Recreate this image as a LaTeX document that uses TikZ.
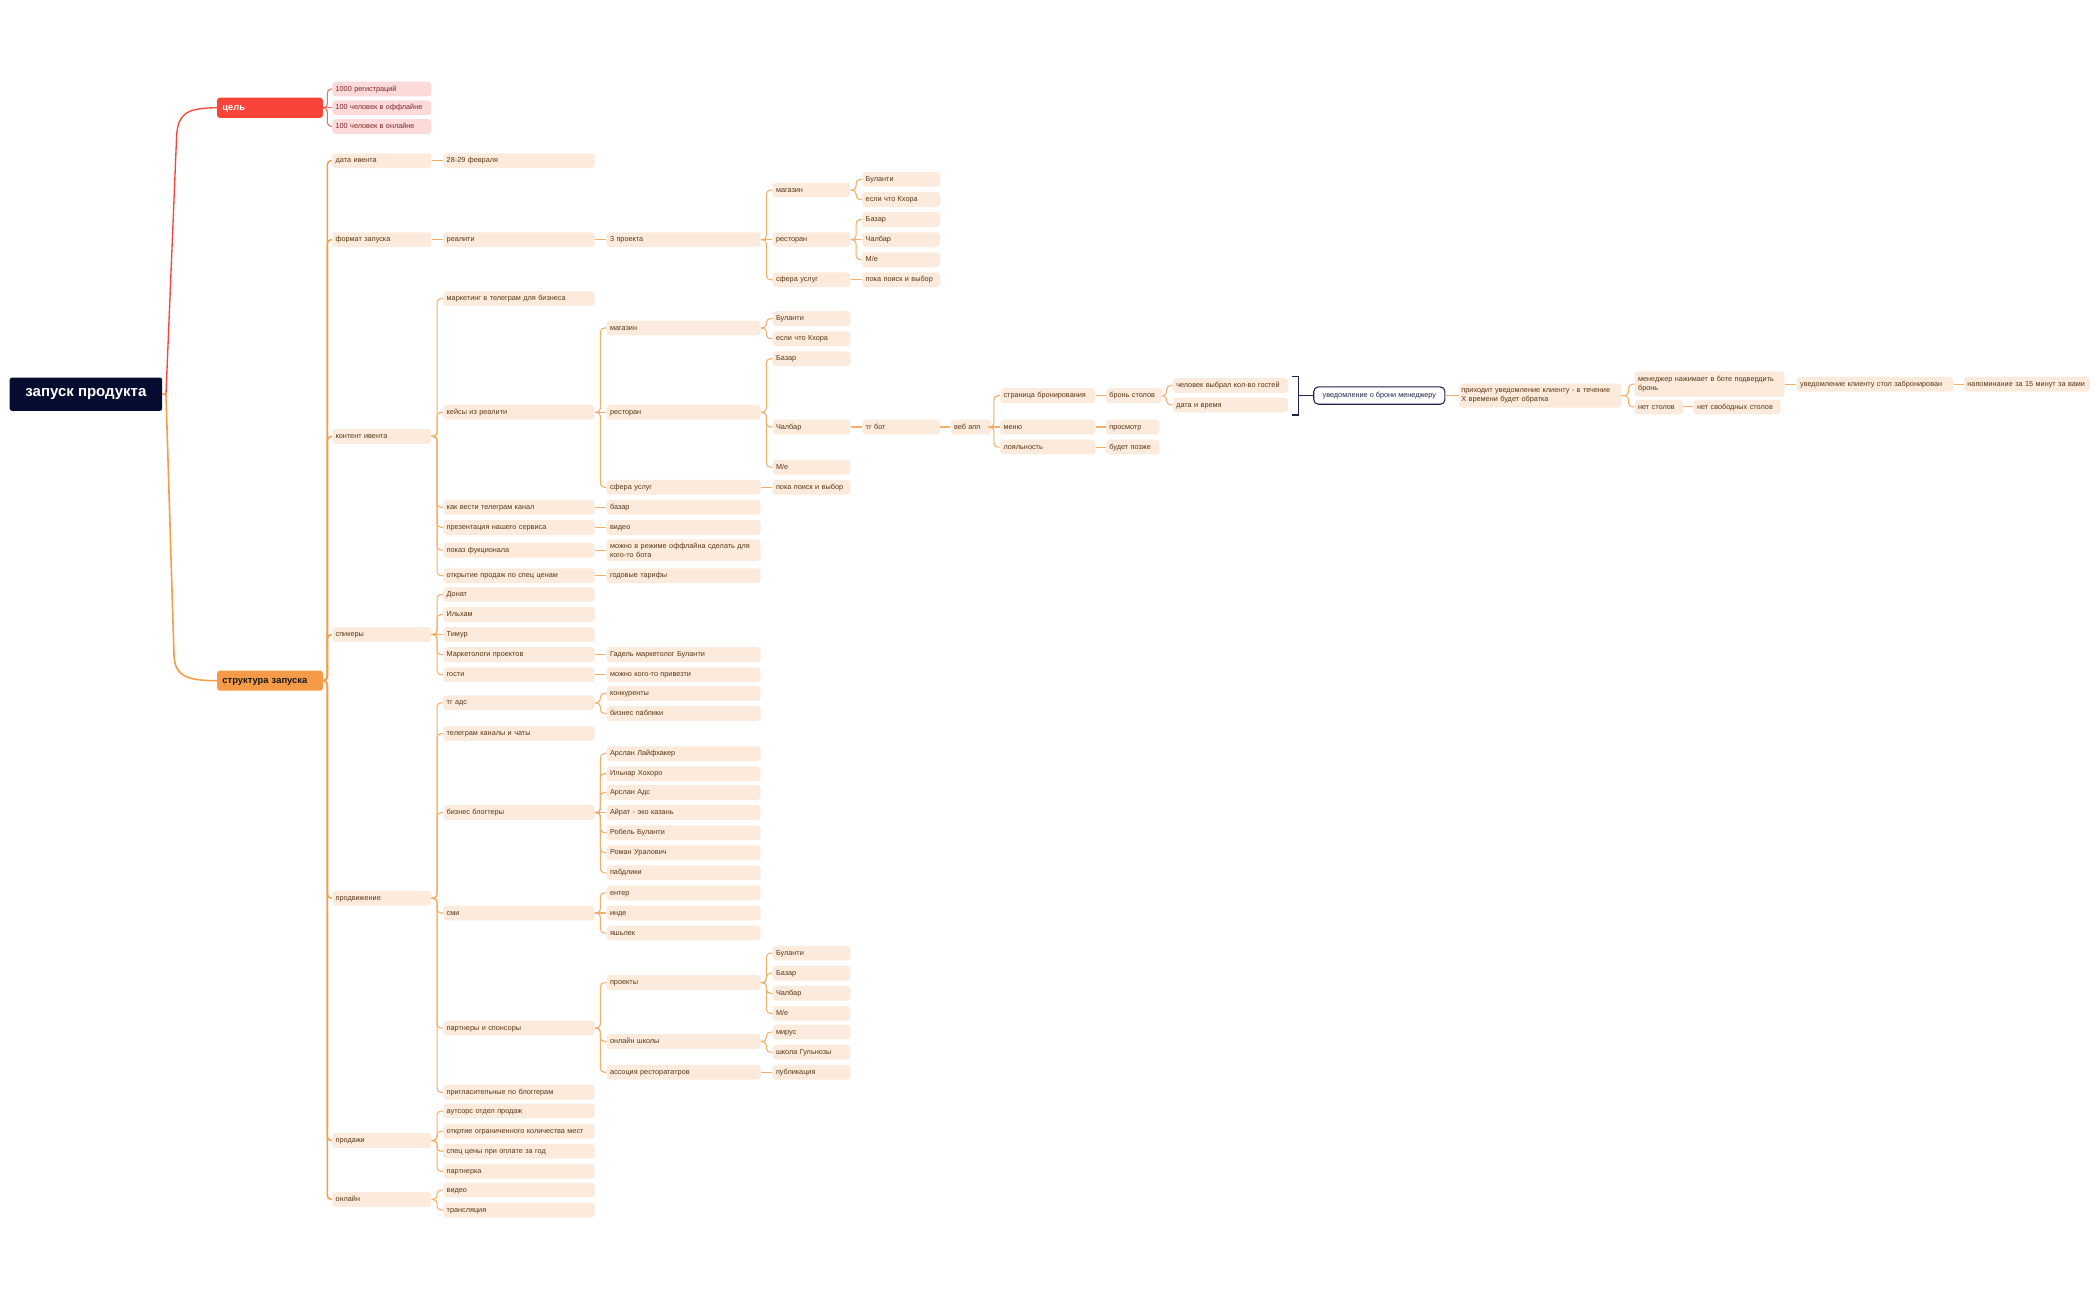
\documentclass[tikz,border=0pt]{standalone}
\usepackage{fontspec}
\setmainfont{Liberation Sans}
\definecolor{boxO}{HTML}{FCEBDC}
\definecolor{txtO}{HTML}{5A3618}
\definecolor{lnO}{HTML}{F7AE68}
\definecolor{lnOd}{HTML}{F59E4A}
\definecolor{boxP}{HTML}{FDDADA}
\definecolor{txtP}{HTML}{7A2626}
\definecolor{redM}{HTML}{FA443A}
\definecolor{orM}{HTML}{F59B47}
\definecolor{navy}{HTML}{060B30}
\definecolor{navyl}{HTML}{1E2448}
\tikzset{
  lvb/.style={anchor=west, fill=boxO, rounded corners=2.5pt, minimum height=11pt,
    inner xsep=2.5pt, inner ysep=1.2pt, align=left,
    font=\fontsize{5.45}{6.5}\selectfont, text=txtO},
  lv/.style={lvb, text height=4.3pt, text depth=1.1pt},
  lvP/.style={lv, fill=boxP, text=txtP, text width=69pt},
  k2/.style={lv, text width=69pt},
  k3/.style={lv, text width=108pt},
  k4/.style={lv, text width=110pt},
  k5/.style={lv, text width=53pt},
  k6/.style={lv, text width=53pt},
  ln/.style={draw=lnO, line width=0.8pt, rounded corners=3pt},
  ln1/.style={draw=lnOd, line width=1.1pt, rounded corners=3pt},
  lnP/.style={draw=redM!80, line width=0.8pt, rounded corners=3pt},
  main/.style={anchor=west, rounded corners=2pt, text width=71pt, inner xsep=4pt,
    minimum height=15pt, text height=5.3pt, text depth=1.3pt,
    font=\fontsize{7}{8}\selectfont\bfseries},
}
\newcommand\mlink[3][ln]{\draw[#1] (#2.east) -| ([xshift=-4.5pt]#3.west) -- (#3.west);}
\newcommand\mlinkT[3][ln1]{\draw[#1] (#2.east) -| ([xshift=-3.5pt]#3.west) -- (#3.west);}
\newcommand\mstr[3][ln]{\draw[#1] (#2.east) -- (#3.west);}
\begin{document}
\begin{tikzpicture}[x=1pt,y=-1pt]
\fill[white] (0,0) rectangle (1568,971);
\useasboundingbox (0,0) rectangle (1568,971);

% root and level 1
\node[anchor=west, fill=navy, text=white, font=\fontsize{11.2}{13}\selectfont\bfseries,
  rounded corners=2pt, minimum width=114pt, minimum height=25pt, inner sep=0pt]
  (root) at (7,294.5) {запуск продукта};
\node[main, fill=redM, text=white] (goal) at (162,80.5) {цель};
\node[main, fill=orM, text=black!90] (struct) at (162,508.5) {структура запуска};

\draw[draw=redM, line width=1pt] (root.east) -- (124,294.5) -- (132,100) .. controls (133.5,86) and (138,80.5) .. (goal.west);
\draw[draw=lnOd, line width=1.2pt] (root.east) -- (124,294.5) -- (130,490) .. controls (131,503) and (136,508.5) .. (struct.west);

% goal children
\node[lvP] (g1) at (248,66.5) {1000 регистраций};
\node[lvP] (g2) at (248,80.5) {100 человек в оффлайне};
\node[lvP] (g3) at (248,94.5) {100 человек в онлайне};
\mlinkT[lnP]{goal}{g1}
\mstr[lnP]{goal}{g2}
\mlinkT[lnP]{goal}{g3}

% level 2
\node[k2] (data) at (248,120) {дата ивента};
\node[k2] (fmt) at (248,179) {формат запуска};
\node[k2] (cont) at (248,326) {контент ивента};
\node[k2] (spk) at (248,474) {спикеры};
\node[k2] (prom) at (248,671) {продвижение};
\node[k2] (sales) at (248,852) {продажи};
\node[k2] (onl) at (248,896) {онлайн};
\foreach \n in {data,fmt,cont,spk,prom,sales,onl}{\mlinkT{struct}{\n}}

% дата
\node[k3] (d1) at (331,120) {28-29 февраля};
\mstr{data}{d1}

% формат
\node[k3] (f1) at (331,179) {реалити};
\node[k4] (f2) at (453,179) {3 проекта};
\node[k5] (f3a) at (577,142) {магазин};
\node[k5] (f3b) at (577,179) {ресторан};
\node[k5] (f3c) at (577,209) {сфера услуг};
\node[k6] (fa1) at (644,134) {Буланти};
\node[k6] (fa2) at (644,149) {если что Кхора};
\node[k6] (fb1) at (644,164) {Базар};
\node[k6] (fb2) at (644,179) {Чалбар};
\node[k6] (fb3) at (644,194) {М/е};
\node[k6] (fc1) at (644,209) {пока поиск и выбор};
\mstr{fmt}{f1}
\mstr{f1}{f2}
\mlink{f2}{f3a}\mstr{f2}{f3b}\mlink{f2}{f3c}
\mlink{f3a}{fa1}\mlink{f3a}{fa2}
\mlink{f3b}{fb1}\mstr{f3b}{fb2}\mlink{f3b}{fb3}
\mstr{f3c}{fc1}

% контент
\node[k3] (c1) at (331,223) {маркетинг в телеграм для бизнеса};
\node[k3] (c2) at (331,308) {кейсы из реалити};
\node[k3] (c3) at (331,379) {как вести телеграм канал};
\node[k3] (c4) at (331,394) {презентация нашего сервиса};
\node[k3] (c5) at (331,411) {показ фукционала};
\node[k3] (c6) at (331,430) {открытие продаж по спец ценам};
\foreach \n in {c1,c2,c3,c4,c5,c6}{\mlink{cont}{\n}}

\node[k4] (c2a) at (453,245) {магазин};
\node[k4] (c2b) at (453,308) {ресторан};
\node[k4] (c2c) at (453,364) {сфера услуг};
\mlink{c2}{c2a}\mstr{c2}{c2b}\mlink{c2}{c2c}
\node[k5] (c2a1) at (577,238) {Буланти};
\node[k5] (c2a2) at (577,253) {если что Кхора};
\node[k5] (c2b1) at (577,268) {Базар};
\node[k5] (c2b2) at (577,319) {Чалбар};
\node[k5] (c2b3) at (577,349) {М/е};
\node[k5] (c2c1) at (577,364) {пока поиск и выбор};
\mlink{c2a}{c2a1}\mlink{c2a}{c2a2}
\mlink{c2b}{c2b1}\mlink{c2b}{c2b2}\mlink{c2b}{c2b3}
\mstr{c2c}{c2c1}

\node[k6] (tgbot) at (644,319) {тг бот};
\node[lv, text width=25pt] (web) at (710,319) {веб апп};
\node[lv, text width=66pt] (page) at (747,295.5) {страница бронирования};
\node[lv, text width=66pt] (menu) at (747,319) {меню};
\node[lv, text width=66pt] (loy) at (747,334) {лояльность};
\node[lv, text width=37pt] (bron) at (826,295.5) {бронь столов};
\node[lv, text width=35pt] (view) at (826,319) {просмотр};
\node[lv, text width=35pt] (later) at (826,334) {будет позже};
\node[lv, text width=81pt] (guests) at (876,288) {человек выбрал кол-во гостей};
\node[lv, text width=81pt] (dt) at (876,302.5) {дата и время};
\mstr{c2b2}{tgbot}
\mstr{tgbot}{web}
\mlink{web}{page}\mstr{web}{menu}\mlink{web}{loy}
\mstr{page}{bron}\mstr{menu}{view}\mstr{loy}{later}
\mlink{bron}{guests}\mlink{bron}{dt}

% summary bracket
\draw[navyl, line width=0.9pt] (965,281) -- (970,281) -- (970,310) -- (965,310);
\coordinate (brk) at (970,295.5);
\node[anchor=west, draw=navyl, fill=white, line width=0.8pt, rounded corners=3.5pt,
  minimum width=98pt, minimum height=13pt, inner sep=1pt, text height=4.3pt, text depth=1.1pt,
  font=\fontsize{5.45}{6.5}\selectfont, text=navyl] (summ) at (981,295.5) {уведомление о брони менеджеру};
\draw[navyl, line width=0.9pt] (brk) -- (summ.west);

\node[lvb, text width=118pt, inner xsep=1.5pt, minimum height=18pt] (notify) at (1090,295.5)
  {приходит уведомление клиенту - в течение\\Х времени будет обратка};
\node[lvb, text width=107pt, minimum height=19pt] (mgr) at (1221,287)
  {менеджер нажимает в боте подвердить\\бронь};
\node[lv, text width=31pt] (nostol) at (1221,304) {нет столов};
\node[lv, text width=112pt] (booked) at (1342,287) {уведомление клиенту стол забронирован};
\node[lv, text width=89pt] (remind) at (1467,287) {напоминание за 15 минут за вами};
\node[lv, text width=60pt] (nofree) at (1265,304) {нет свободных столов};
\mstr{summ}{notify}
\mlink{notify}{mgr}\mlink{notify}{nostol}
\mstr{mgr}{booked}\mstr{booked}{remind}
\mstr{nostol}{nofree}

\node[k4] (c3a) at (453,379) {базар};
\node[k4] (c4a) at (453,394) {видео};
\node[lvb, text width=110pt, minimum height=16pt] (c5a) at (453,411) {можно в режиме оффлайна сделать для\\кого-то бота};
\node[k4] (c6a) at (453,430) {годовые тарифы};
\mstr{c3}{c3a}\mstr{c4}{c4a}\mstr{c5}{c5a}\mstr{c6}{c6a}

% спикеры
\node[k3] (s1) at (331,444) {Донат};
\node[k3] (s2) at (331,459) {Ильхам};
\node[k3] (s3) at (331,474) {Тимур};
\node[k3] (s4) at (331,489) {Маркетологи проектов};
\node[k3] (s5) at (331,504) {гости};
\mlink{spk}{s1}\mlink{spk}{s2}\mstr{spk}{s3}\mlink{spk}{s4}\mlink{spk}{s5}
\node[k4] (s4a) at (453,489) {Гадель маркетолог Буланти};
\node[k4] (s5a) at (453,504) {можно кого-то привезти};
\mstr{s4}{s4a}\mstr{s5}{s5a}

% продвижение
\node[k3] (p1) at (331,525) {тг адс};
\node[k3] (p2) at (331,548) {телеграм каналы и чаты};
\node[k3] (p3) at (331,607) {бизнес блогтеры};
\node[k3] (p4) at (331,682) {сми};
\node[k3] (p5) at (331,768) {партнеры и спонсоры};
\node[k3] (p6) at (331,816) {пригласительные по блоггерам};
\foreach \n in {p1,p2,p3,p4,p5,p6}{\mlink{prom}{\n}}

\node[k4] (p1a) at (453,518) {конкуренты};
\node[k4] (p1b) at (453,533) {бизнес паблики};
\mlink{p1}{p1a}\mlink{p1}{p1b}

\node[k4] (b1) at (453,563) {Арслан Лайфхакер};
\node[k4] (b2) at (453,578) {Ильнар Хохоро};
\node[k4] (b3) at (453,592) {Арслан Адс};
\node[k4] (b4) at (453,607) {Айрат - эко казань};
\node[k4] (b5) at (453,622) {Робель Буланти};
\node[k4] (b6) at (453,637) {Роман Уралович};
\node[k4] (b7) at (453,652) {пабдлики};
\mlink{p3}{b1}\mlink{p3}{b2}\mlink{p3}{b3}\mstr{p3}{b4}\mlink{p3}{b5}\mlink{p3}{b6}\mlink{p3}{b7}

\node[k4] (m1) at (453,667) {ентер};
\node[k4] (m2) at (453,682) {инде};
\node[k4] (m3) at (453,697) {яшьлек};
\mlink{p4}{m1}\mstr{p4}{m2}\mlink{p4}{m3}

\node[k4] (p5a) at (453,734) {проекты};
\node[k4] (p5b) at (453,778) {онлайн школы};
\node[k4] (p5c) at (453,801) {ассоция ресторататров};
\mlink{p5}{p5a}\mlink{p5}{p5b}\mlink{p5}{p5c}
\node[k5] (pa1) at (577,712) {Буланти};
\node[k5] (pa2) at (577,727) {Базар};
\node[k5] (pa3) at (577,742) {Чалбар};
\node[k5] (pa4) at (577,757) {М/е};
\mlink{p5a}{pa1}\mlink{p5a}{pa2}\mlink{p5a}{pa3}\mlink{p5a}{pa4}
\node[k5] (pb1) at (577,771) {мирус};
\node[k5] (pb2) at (577,786) {школа Гульнозы};
\mlink{p5b}{pb1}\mlink{p5b}{pb2}
\node[k5] (pc1) at (577,801) {публикация};
\mstr{p5c}{pc1}

% продажи
\node[k3] (sa1) at (331,830) {аутсорс отдел продаж};
\node[k3] (sa2) at (331,845) {откртие ограниченного количества мест};
\node[k3] (sa3) at (331,860) {спец цены при оплате за год};
\node[k3] (sa4) at (331,875) {партнерка};
\foreach \n in {sa1,sa2,sa3,sa4}{\mlink{sales}{\n}}

% онлайн
\node[k3] (o1) at (331,889) {видео};
\node[k3] (o2) at (331,904) {трансляция};
\mlink{onl}{o1}\mlink{onl}{o2}
\end{tikzpicture}
\end{document}
